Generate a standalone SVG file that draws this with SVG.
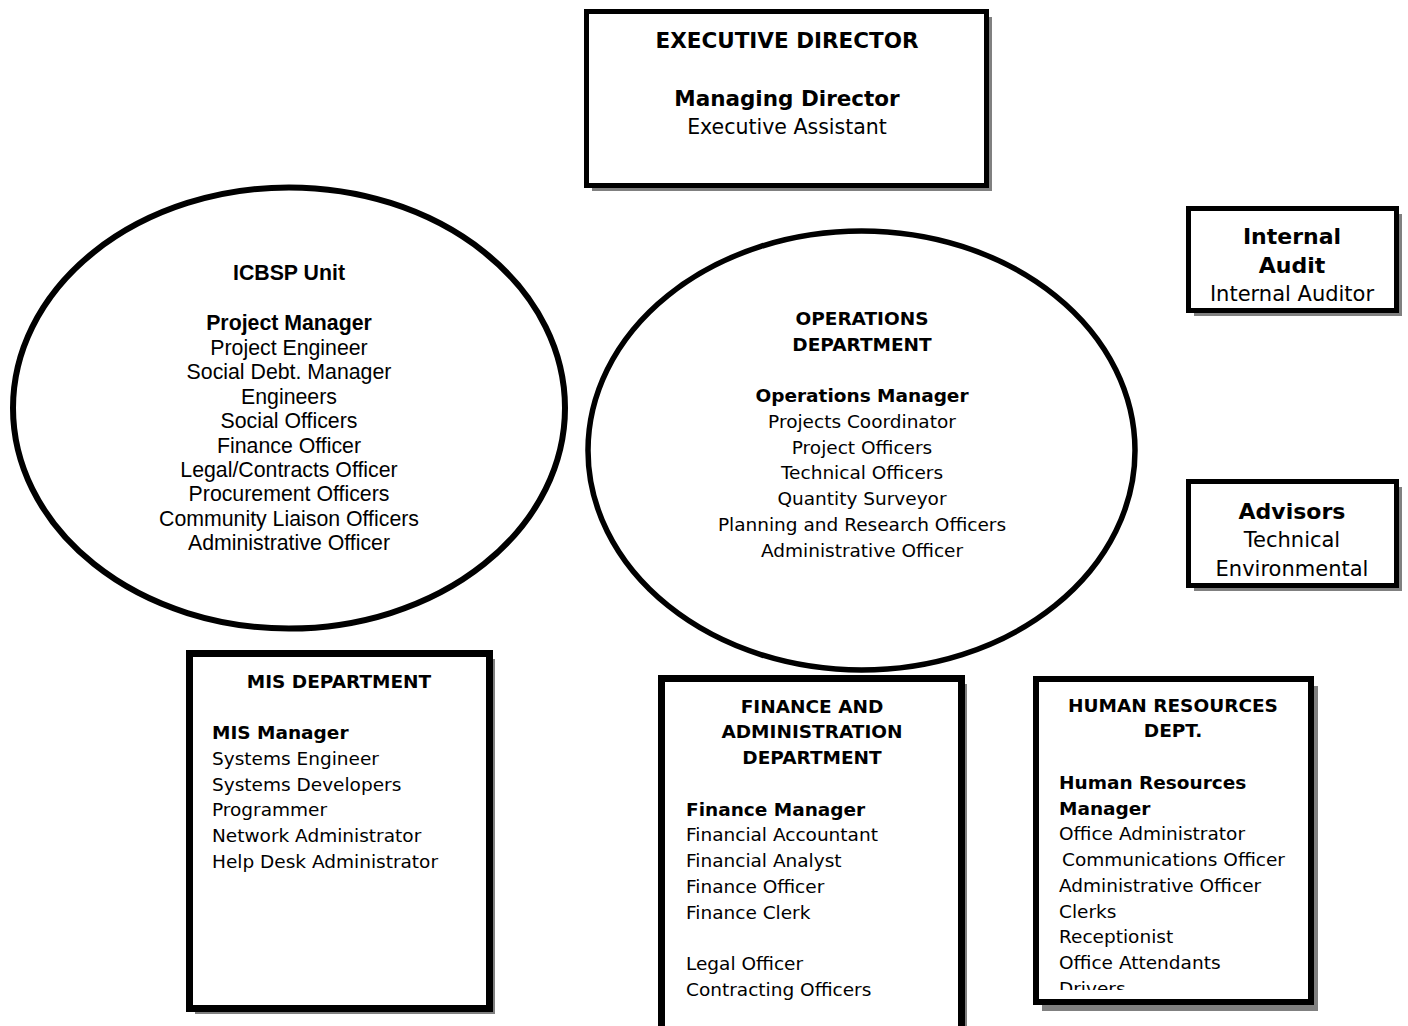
<svg xmlns="http://www.w3.org/2000/svg" width="1408" height="1026" viewBox="0 0 1408 1026">
<style>
.bx{fill:#fff;stroke:#000}
.sh{fill:#808080}
.el{fill:#fff;stroke:#000}
.t{font-family:"DejaVu Sans",Verdana,Tahoma,sans-serif;font-size:18.5px;fill:#000}
.b{font-weight:bold}
.c{text-anchor:middle}
.a{font-family:"Liberation Sans",Arial,sans-serif;font-size:21.3px;fill:#000;text-anchor:middle}
.ex{font-size:20.5px}
.exb{font-size:21.5px}
.r{font-size:21px}
.rb{font-size:22px}
</style>
<defs>
<clipPath id="clipAdv"><rect x="1190" y="484" width="205" height="93"/></clipPath>
<clipPath id="clipHR"><rect x="1039" y="682" width="268" height="308"/></clipPath>
</defs>
<rect width="1408" height="1026" fill="#fff"/>
<g id="connectors"></g>

<g id="executive">
<rect class="sh" x="592" y="17" width="400" height="174"/>
<rect class="bx" x="586.5" y="11.5" width="400" height="174" stroke-width="5"/>
<text class="t b c exb" x="787" y="48">EXECUTIVE DIRECTOR</text>
<text class="t b c exb" x="787" y="106">Managing Director</text>
<text class="t c ex" x="787" y="134">Executive Assistant</text>
</g>

<g id="internal-audit">
<rect class="sh" x="1194" y="214" width="208" height="102"/>
<rect class="bx" x="1188.5" y="208.5" width="208" height="102" stroke-width="5"/>
<text class="t b c rb" x="1292" y="244">Internal</text>
<text class="t b c rb" x="1292" y="273">Audit</text>
<text class="t c r" x="1292" y="301">Internal Auditor</text>
</g>

<g id="advisors">
<rect class="sh" x="1194" y="487" width="208" height="104"/>
<rect class="bx" x="1188.5" y="481.5" width="208" height="104" stroke-width="5"/>
<g clip-path="url(#clipAdv)">
<text class="t b c rb" x="1292" y="519">Advisors</text>
<text class="t c r" x="1292" y="547">Technical</text>
<text class="t c r" x="1292" y="576">Environmental</text>
</g>
</g>

<g id="icbsp-unit">
<ellipse class="el" cx="289" cy="408" rx="276" ry="220.5" stroke-width="6"/>
<text class="a" x="289" y="280" font-weight="bold" font-size="19px">ICBSP Unit</text>
<text class="a" x="289" y="330" font-weight="bold">Project Manager</text>
<text class="a" x="289" y="355">Project Engineer</text>
<text class="a" x="289" y="379">Social Debt. Manager</text>
<text class="a" x="289" y="404">Engineers</text>
<text class="a" x="289" y="428">Social Officers</text>
<text class="a" x="289" y="453">Finance Officer</text>
<text class="a" x="289" y="477">Legal/Contracts Officer</text>
<text class="a" x="289" y="501">Procurement Officers</text>
<text class="a" x="289" y="526">Community Liaison Officers</text>
<text class="a" x="289" y="550">Administrative Officer</text>
</g>

<g id="mis-department">
<rect class="sh" x="195" y="659" width="300" height="355"/>
<rect class="bx" x="189.5" y="653.5" width="300" height="355" stroke-width="7"/>
<text class="t b c" x="339" y="688">MIS DEPARTMENT</text>
<text class="t b" x="212" y="739">MIS Manager</text>
<text class="t" x="212" y="765">Systems Engineer</text>
<text class="t" x="212" y="791">Systems Developers</text>
<text class="t" x="212" y="816">Programmer</text>
<text class="t" x="212" y="842">Network Administrator</text>
<text class="t" x="212" y="868">Help Desk Administrator</text>
</g>

<g id="finance-administration">
<rect class="sh" x="667" y="684" width="300" height="352"/>
<rect class="bx" x="661.5" y="678.5" width="300" height="352" stroke-width="7"/>
<text class="t b c" x="812" y="713">FINANCE AND</text>
<text class="t b c" x="812" y="738">ADMINISTRATION</text>
<text class="t b c" x="812" y="764">DEPARTMENT</text>
<text class="t b" x="686" y="816">Finance Manager</text>
<text class="t" x="686" y="841">Financial Accountant</text>
<text class="t" x="686" y="867">Financial Analyst</text>
<text class="t" x="686" y="893">Finance Officer</text>
<text class="t" x="686" y="919">Finance Clerk</text>
<text class="t" x="686" y="970">Legal Officer</text>
<text class="t" x="686" y="996">Contracting Officers</text>
</g>

<g id="operations-department">
<ellipse class="el" cx="861.5" cy="450.5" rx="273.5" ry="219.5" stroke-width="5.5"/>
<text class="t b c" x="862" y="325">OPERATIONS</text>
<text class="t b c" x="862" y="351">DEPARTMENT</text>
<text class="t b c" x="862" y="402">Operations Manager</text>
<text class="t c" x="862" y="428">Projects Coordinator</text>
<text class="t c" x="862" y="454">Project Officers</text>
<text class="t c" x="862" y="479">Technical Officers</text>
<text class="t c" x="862" y="505">Quantity Surveyor</text>
<text class="t c" x="862" y="531">Planning and Research Officers</text>
<text class="t c" x="862" y="557">Administrative Officer</text>
</g>

<g id="human-resources">
<rect class="sh" x="1042" y="686" width="276" height="325"/>
<rect class="bx" x="1036" y="679" width="275" height="323" stroke-width="6"/>
<text class="t b c" x="1173" y="712">HUMAN RESOURCES</text>
<text class="t b c" x="1173" y="737">DEPT.</text>
<g clip-path="url(#clipHR)">
<text class="t b" x="1059" y="789">Human Resources</text>
<text class="t b" x="1059" y="815">Manager</text>
<text class="t" x="1059" y="840">Office Administrator</text>
<text class="t" x="1062" y="866">Communications Officer</text>
<text class="t" x="1059" y="892">Administrative Officer</text>
<text class="t" x="1059" y="918">Clerks</text>
<text class="t" x="1059" y="943">Receptionist</text>
<text class="t" x="1059" y="969">Office Attendants</text>
<text class="t" x="1059" y="995">Drivers</text>
</g>
</g>
</svg>
